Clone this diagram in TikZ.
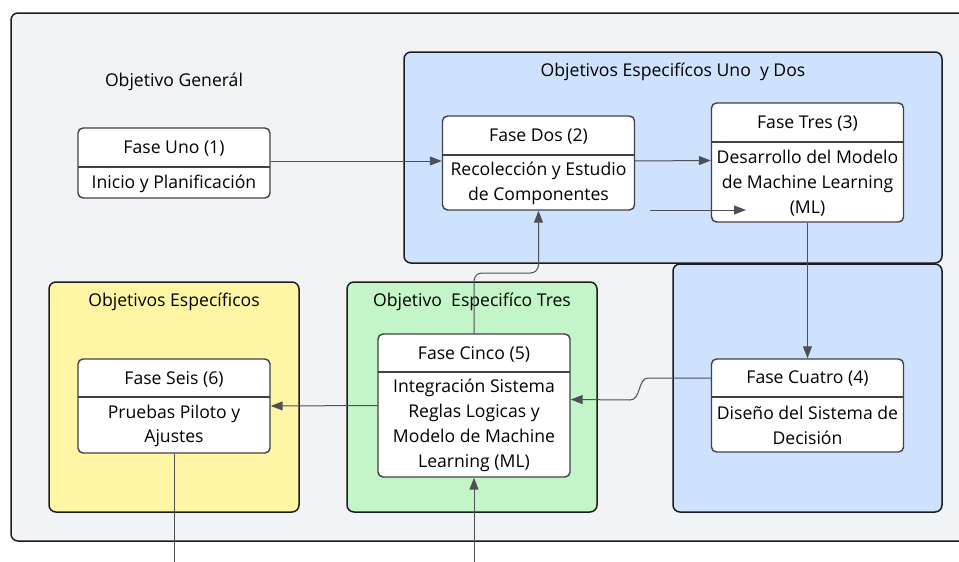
\documentclass[tikz,border=0pt]{standalone}
\usepackage{fontspec}
\setmainfont{Open Sans}
\usetikzlibrary{arrows.meta}
\definecolor{bggray}{RGB}{242,243,245}
\definecolor{bluefill}{RGB}{206,226,253}
\definecolor{yellowfill}{RGB}{255,246,165}
\definecolor{greenfill}{RGB}{196,245,200}
\definecolor{framecol}{RGB}{28,28,30}
\definecolor{boxcol}{RGB}{62,65,72}
\definecolor{arrcol}{RGB}{78,80,86}
\tikzset{
  container/.style={draw=framecol, line width=1.5pt, rounded corners=7pt},
  phase/.style={draw=boxcol, line width=1.4pt, fill=white, rounded corners=5pt, minimum width=192pt, inner sep=0pt},
  divline/.style={draw=boxcol, line width=1.4pt},
  txt/.style={font=\fontsize{17.6}{24.8}\selectfont, align=center, inner sep=0pt, text=black},
  ttl/.style={font=\fontsize{17.6}{24.8}\selectfont, inner sep=0pt, text=black},
  arr/.style={draw=arrcol, line width=1pt, -{Triangle[length=12pt,width=9pt]}},
  plain/.style={draw=arrcol, line width=1pt}
}
\newcommand{\PhaseBox}[7]{%
  \node[phase, minimum height={(#5-#3)*1pt}] (#1) at (#2,{(#3+#5)/2}) {};
  \draw[divline] (#2-96,#4) -- (#2+96,#4);
  \node[txt] (#1h) at (#2,{(#3+#4)/2+1}) {#6};
  \node[txt] (#1b) at (#2,{(#4+#5)/2+1}) {#7};
}
\begin{document}
\begin{tikzpicture}[x=1pt,y=-1pt]
\useasboundingbox (0,0) rectangle (959,562);
\begin{scope}
\clip (0,0) rectangle (959,562);
\fill[white] (0,0) rectangle (959,562);
% containers
\draw[container, fill=bggray] (11,13) rectangle (990,541);
\draw[container, fill=bluefill] (404,52) rectangle (942,263);
\draw[container, fill=bluefill] (673,264) rectangle (942,512);
\draw[container, fill=yellowfill] (49,282) rectangle (299,512);
\draw[container, fill=greenfill] (347,282) rectangle (597,512);
% titles
\node[ttl] (t0) at (174,82) {Objetivo Generál};
\node[ttl] (t1) at (673,72) {Objetivos Especifícos Uno\ \ y Dos};
\node[ttl] (t2) at (174,302) {Objetivos Específicos};
\node[ttl] (t3) at (472,302) {Objetivo\ \ Especifíco Tres};
% phases
\PhaseBox{f1}{174}{128}{167}{198}{Fase Uno (1)}{Inicio y Planificación}
\PhaseBox{f2}{538.5}{116}{155}{210}{Fase Dos (2)}{Recolección y Estudio\\de Componentes}
\PhaseBox{f3}{807.5}{103}{142}{222}{Fase Tres (3)}{Desarrollo del Modelo\\de Machine Learning\\(ML)}
\PhaseBox{f4}{807.5}{359}{397}{452}{Fase Cuatro (4)}{Diseño del Sistema de\\Decisión}
\PhaseBox{f5}{474}{334}{372}{477}{Fase Cinco (5)}{Integración Sistema\\Reglas Logicas y\\Modelo de Machine\\Learning (ML)}
\PhaseBox{f6}{174}{359}{397}{453}{Fase Seis (6)}{Pruebas Piloto y\\Ajustes}
% connectors
\draw[arr] ([yshift=2pt]f1.east) -- ([yshift=2pt]f2.west);
\draw[arr] ([yshift=2pt]f2.east) -- ([yshift=2pt]f3.west);
\coordinate (s1) at (650,210);
\coordinate (s2) at (746,210);
\draw[arr] (s1) -- (s2);
\draw[arr] (f3.south) -- (f4.north);
\coordinate (c4a) at (648,378);
\coordinate (c4b) at (630,400);
\draw[arr] ([yshift=27.5pt]f4.west) -- (c4a) .. controls (638,378) and (641,400) .. (c4b) -- ([yshift=6pt]f5.east);
\draw[arr] (f5.west) -- (f6.east);
\draw[arr, rounded corners=8pt] (f5.north) -- (474,273) -- (538.5,273) -- (f2.south);
\coordinate (b6) at (174,562);
\coordinate (b5) at (474,562);
\draw[plain] (f6.south) -- (b6);
\draw[arr] (b5) -- (f5.south);
\end{scope}
\end{tikzpicture}
\end{document}
